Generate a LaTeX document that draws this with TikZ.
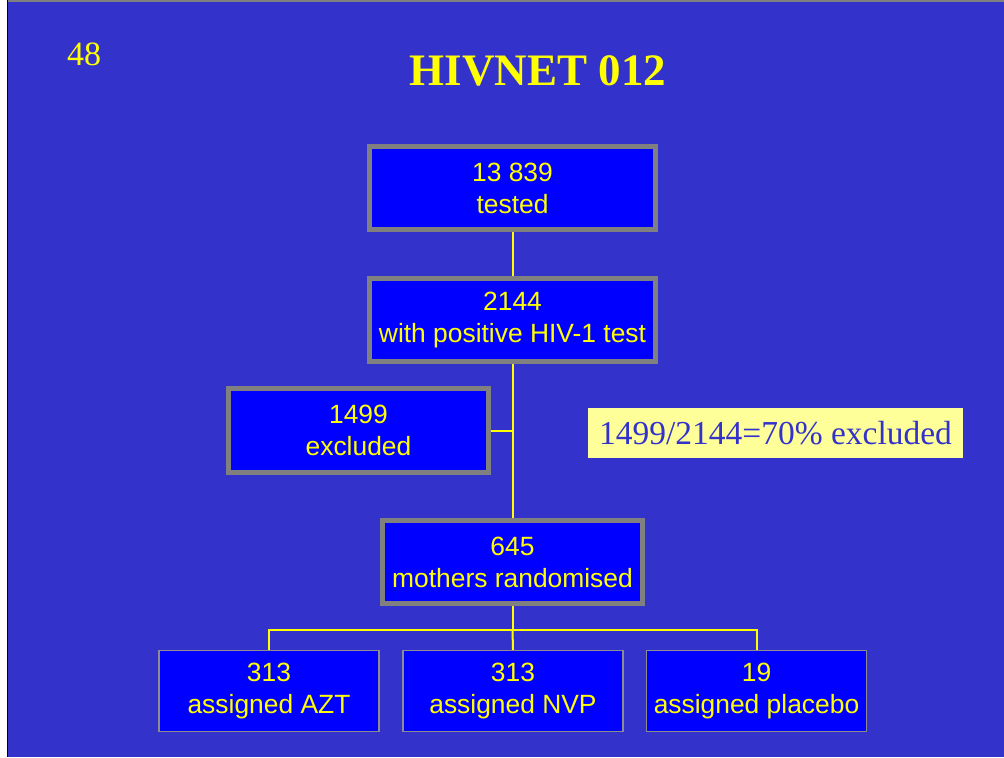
\documentclass[tikz,border=0pt]{standalone}
\usepackage{fontspec}
\setmainfont{Liberation Sans}
\newfontfamily\timesfont{Liberation Serif}
\usepackage{tikz}
\usetikzlibrary{positioning,calc}
\usepackage{xcolor}
\definecolor{slideblue}{RGB}{51,51,204}
\definecolor{boxblue}{RGB}{0,0,255}
\definecolor{boxgray}{RGB}{128,128,128}
\definecolor{textyellow}{RGB}{255,255,0}
\definecolor{paleyellow}{RGB}{255,255,153}

\begin{document}
\begin{tikzpicture}[x=0.5pt,y=-0.5pt]
  \tikzstyle{stage}=[rectangle, draw=boxgray, line width=2.5pt, fill=boxblue, text=textyellow, align=center, minimum width=143pt, minimum height=41.5pt, inner sep=0pt, font=\fontsize{13.2}{16}\selectfont]
  \tikzstyle{arm}=[stage, line width=0.75pt, draw=boxgray!90, minimum width=110pt, minimum height=40.5pt]
  \tikzstyle{link}=[draw=textyellow, line width=1pt]
  % slide background
  \useasboundingbox (0,0) rectangle (1004,757);
  \fill[white] (0,0) rectangle (8,757);
  \fill[slideblue] (8,0) rectangle (1004,757);
  \draw[black, line width=0.75pt] (7.5,0) -- (7.5,757);
  \draw[boxgray, line width=0.75pt] (8,0.75) -- (1004,0.75);
  % headings
  \node[anchor=base, text=textyellow, font=\timesfont\fontsize{17}{20}\selectfont] (num) at (84,65) {48};
  \node[anchor=base, text=textyellow, font=\timesfont\bfseries\fontsize{22.5}{26}\selectfont] (title) at (538,85.5) {HIVNET 012};
  % flow boxes
  \node[stage] (tested) at (512.5,188) {13 839\\tested};
  \node[stage] (pos) at (512.5,320) {2144\\with positive HIV-1 test};
  \node[stage, minimum width=130pt, minimum height=42pt] (excl) at (358.5,430.5) {1499\\excluded};
  \node[stage, minimum width=130pt] (rand) at (512.5,562) {645\\mothers randomised};
  \node[arm] (azt) at (269,691) {313\\assigned AZT};
  \node[arm] (nvp) at (513,691) {313\\assigned NVP};
  \node[arm] (plc) at (756.5,691) {19\\assigned placebo};
  \node[fill=paleyellow, text=slideblue, minimum width=187.5pt, minimum height=25pt, inner sep=0pt, font=\timesfont\fontsize{16.75}{19}\selectfont] (share) at (775.5,433) {1499/2144=70\% excluded};
  % connectors
  \coordinate (split) at (512.5,630);
  \draw[link] (tested) -- (pos);
  \draw[link] (pos) -- (rand);
  \draw[link] (excl) -- (excl -| pos);
  \draw[link] (rand) -- (split);
  \draw[link] (azt.north) |- (split) -| (plc.north);
  \draw[link] (split) -- (nvp.north);
\end{tikzpicture}
\end{document}
